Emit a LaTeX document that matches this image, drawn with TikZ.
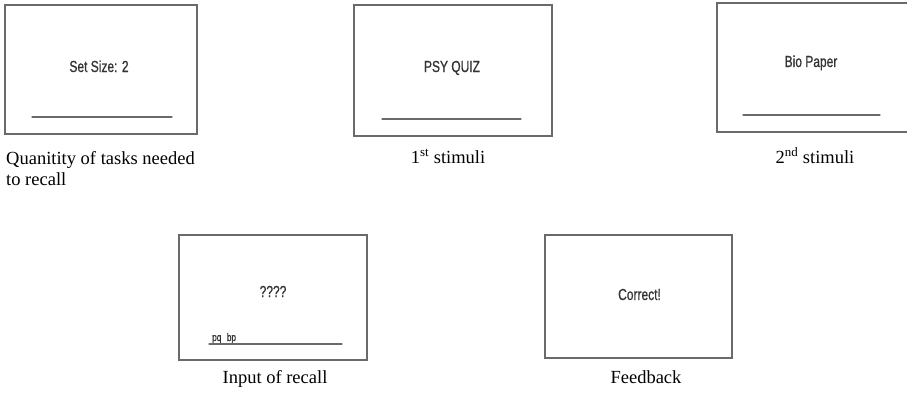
\documentclass[tikz,border=0pt]{standalone}
\usepackage{fontspec}
\setmainfont{Liberation Serif}
\newfontfamily\screenfont[FakeStretch=0.75,FakeBold=0.8]{Liberation Sans}
\definecolor{framegray}{HTML}{6A6A6A}
\definecolor{inkgray}{HTML}{333333}

\begin{document}
\begin{tikzpicture}[x=1pt,y=-1pt,line cap=round,
    screen/.style={draw=framegray,line width=1.4pt,inner sep=0pt},
    answer/.style={draw=framegray,line width=1.1pt},
    prompt/.style={font=\screenfont\fontsize{16}{18}\selectfont,text=inkgray,inner sep=0pt},
    typed/.style={font=\screenfont\fontsize{11}{12}\selectfont,text=inkgray,inner sep=0pt},
    caption/.style={font=\fontsize{18.5}{21}\selectfont,inner sep=0pt}]

        \useasboundingbox (0,0) rectangle (907,397);

        % Positions of the answer lines.
        \coordinate (l1) at (32,117);
        \coordinate (r1) at (172,117);
        \coordinate (l2) at (382,119);
        \coordinate (r2) at (521,119);
        \coordinate (l3) at (743,115);
        \coordinate (r3) at (880,115);
        \coordinate (l4) at (209,344);
        \coordinate (r4) at (342,344);

        % The screens of the top row.
        \node (setsize) [screen, minimum width=192pt, minimum height=129pt] at (101,69.5) {};
        \node (quiz) [screen, minimum width=198pt, minimum height=131pt] at (453,70.5) {};
        \coordinate (bio) at (717,3);
        \draw[screen] (907,3) -- (bio) |- (907,132);

        % The screens of the bottom row.
        \node (recall) [screen, minimum width=188pt, minimum height=125pt] at (273,297.5) {};
        \node (feedback) [screen, minimum width=187pt, minimum height=123pt] at (638.5,296.5) {};

        % What each screen shows.
        \node (t1) [prompt, anchor=base] at (99,72) {Set Size: 2};
        \node (t2) [prompt, anchor=base] at (452,72) {PSY QUIZ};
        \node (t3) [prompt, anchor=base] at (811,67) {Bio Paper};
        \node (t4) [prompt, anchor=base] at (273,297) {????};
        \node (t5) [prompt, anchor=base] at (639.5,300) {Correct!};
        \node (t6) [typed, anchor=base west] at (212,341) {pq\enspace bp};

        % Lines to type the answer on.
        \draw[answer] (l1) -- (r1);
        \draw[answer] (l2) -- (r2);
        \draw[answer] (l3) -- (r3);
        \draw[answer] (l4) -- (r4);

        % Captions under the screens.
        \node (c1) [caption, anchor=north west, align=left] at (6,151)
            {Quanitity of tasks needed\\to recall};
        \node (c2) [caption, anchor=base] at (448,163) {1\textsuperscript{st} stimuli};
        \node (c3) [caption, anchor=base] at (815,163) {2\textsuperscript{nd} stimuli};
        \node (c4) [caption, anchor=base] at (275,383) {Input of recall};
        \node (c5) [caption, anchor=base] at (646,383) {Feedback};
    \end{tikzpicture}
\end{document}
